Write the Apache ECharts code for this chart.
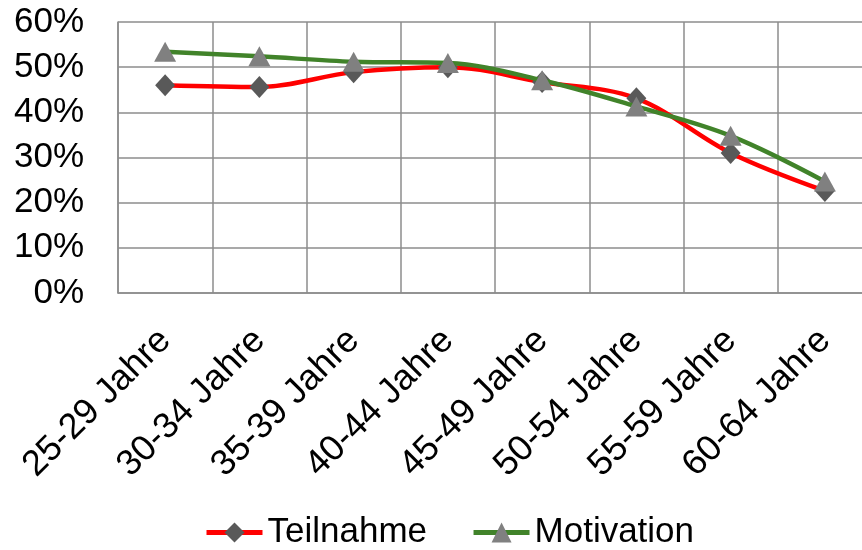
<!DOCTYPE html>
<html><head><meta charset="utf-8">
<script src="https://cdn.jsdelivr.net/npm/echarts@6/dist/echarts.min.js"></script>
<style>html,body{margin:0;padding:0;background:#fff;overflow:hidden}#c{width:880px;height:550px}</style>
</head><body><div id="c"></div>
<script>
const categories = ['25-29 Jahre','30-34 Jahre','35-39 Jahre','40-44 Jahre','45-49 Jahre','50-54 Jahre','55-59 Jahre','60-64 Jahre'];
const teilnahme = [46.0, 45.6, 48.9, 50.0, 46.7, 43.1, 31.0, 22.6];
const motivation = [53.4, 52.4, 51.2, 50.9, 47.1, 41.3, 34.8, 24.7];
const yTicks = [0, 10, 20, 30, 40, 50, 60];

const font = 'Liberation Sans, Arial, sans-serif';
const chart = echarts.init(document.getElementById('c'));
chart.setOption({
  animation: false,
  grid: { left: 118, top: 22, width: 754, bottom: 257, containLabel: false },
  legend: {
    top: 510, left: 199,
    itemWidth: 56, itemHeight: 25, itemGap: 44,
    lineStyle: { width: 5 },
    textStyle: { fontFamily: font, fontSize: 35, color: '#000', padding: [0, 0, 0, 0] },
    data: ['Teilnahme', 'Motivation']
  },
  xAxis: {
    type: 'category', data: categories, boundaryGap: true,
    axisLine: { lineStyle: { color: '#8c8c8c', width: 1.5 } },
    axisTick: { show: false },
    splitLine: { show: true, interval: 0, lineStyle: { color: '#8c8c8c', width: 1.5 } },
    axisLabel: { rotate: 45, interval: 0, margin: 42, fontFamily: font, fontSize: 36, color: '#000' }
  },
  yAxis: {
    type: 'value', min: 0, max: 60, interval: 10,
    axisLine: { show: true, lineStyle: { color: '#8c8c8c', width: 1.5 } },
    axisTick: { show: false },
    splitLine: { lineStyle: { color: '#8c8c8c', width: 1.5 } },
    axisLabel: { formatter: v => yTicks.includes(v) ? v + '%' : '', margin: 34, fontFamily: font, fontSize: 35, color: '#000' }
  },
  series: [
    { name: 'Teilnahme', type: 'line', data: teilnahme, smooth: 0.35,
      lineStyle: { color: '#ff0000', width: 4.5 }, itemStyle: { color: '#595959' },
      symbol: 'diamond', symbolSize: [20, 22], z: 2 },
    { name: 'Motivation', type: 'line', data: motivation, smooth: 0.35,
      lineStyle: { color: '#41832a', width: 4.5 }, itemStyle: { color: '#808080' },
      symbol: 'triangle', symbolSize: [22, 20], z: 3 }
  ]
});
</script></body></html>
